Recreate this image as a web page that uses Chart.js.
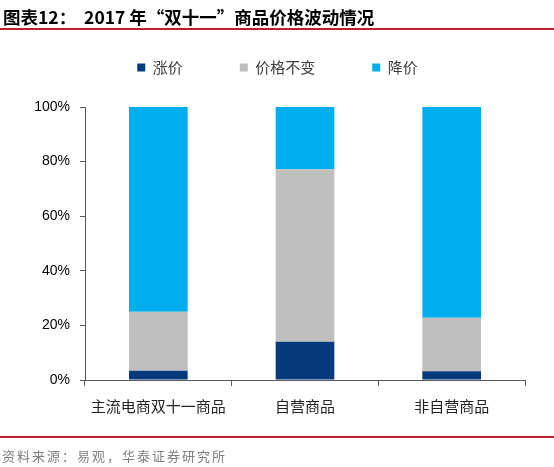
<!DOCTYPE html>
<html>
<head>
<meta charset="utf-8">
<script src="https://cdn.jsdelivr.net/npm/chart.js@4"></script>
<style>
  body { margin: 0; background: #fff; }
  #wrap { position: relative; width: 554px; height: 467px; overflow: hidden; }
  #chart { position: absolute; left: 0; top: 0; }
  .title { position: absolute; left: 3px; top: 4px; font: bold 17.5px "Noto Sans CJK SC", sans-serif; color: #000; white-space: pre; }
  .rule { position: absolute; left: 0; width: 554px; height: 2px; background: #BE1E2D; }
  .source { position: absolute; left: 2px; top: 446px; font: 13px "Noto Sans CJK SC", sans-serif; color: #7f7f7f; letter-spacing: 2px; }
</style>
</head>
<body>
<div id="wrap">
  <canvas id="chart" width="554" height="467"></canvas>
  <div class="title">图表12：  2017 年“双十一”商品价格波动情况</div>
  <div class="rule" style="top:28px"></div>
  <div class="rule" style="top:436px"></div>
  <div class="source">资料来源：易观，华泰证券研究所</div>
</div>
<script>
// Categories and shares (%)
const categories = ["主流电商双十一商品", "自营商品", "非自营商品"];
const priceUp = [3.4, 14.0, 3.2];      // 涨价
const priceSame = [21.6, 63.2, 19.6];  // 价格不变
const priceDown = [75.0, 22.8, 77.2];  // 降价
const yTicks = [0, 20, 40, 60, 80, 100];

const cjk = '"Noto Sans CJK SC", sans-serif';
const axisColor = "#595959";

// keep the legend block a fixed height so the plot starts where it should
const legendHeight = {
    id: "legendHeight",
    beforeLayout(chart) {
        const lg = chart.legend;
        if (lg && !lg._fixedFit) {
            const fit = lg.fit;
            lg.fit = function () { fit.call(this); this.height = 104; };
            lg._fixedFit = true;
        }
    }
};

new Chart(document.getElementById("chart"), {
    type: "bar",
    data: {
        labels: categories,
        datasets: [
            { label: "涨价", data: priceUp, backgroundColor: "#053A7C" },
            { label: "价格不变", data: priceSame, backgroundColor: "#BFBFBF" },
            { label: "降价", data: priceDown, backgroundColor: "#00AEEF" }
        ]
    },
    plugins: [legendHeight],
    options: {
        responsive: false,
        animation: false,
        layout: { padding: { top: 3, right: 29, bottom: 0, left: 30 } },
        datasets: { bar: { categoryPercentage: 1, barPercentage: 0.4 } },
        plugins: {
            tooltip: { enabled: false },
            legend: {
                position: "top",
                labels: {
                    boxWidth: 8,
                    boxHeight: 8,
                    padding: 57,
                    color: "#404040",
                    font: { family: cjk, size: 15 }
                }
            }
        },
        scales: {
            x: {
                stacked: true,
                afterFit: s => { s.height = 87; },
                grid: { drawOnChartArea: false, color: axisColor, tickLength: 6, offset: true },
                border: { color: axisColor },
                ticks: { color: "#222", padding: 11, font: { family: cjk, size: 15 } }
            },
            y: {
                stacked: true,
                min: 0,
                max: 100,
                afterFit: s => { s.width = 55; },
                afterBuildTicks: s => { s.ticks = yTicks.map(v => ({ value: v })); },
                grid: { drawOnChartArea: false, color: axisColor, tickLength: 5 },
                border: { color: axisColor },
                ticks: {
                    color: "#000",
                    padding: 10,
                    font: { family: '"Liberation Sans", Arial, sans-serif', size: 14 },
                    callback: v => v + "%"
                }
            }
        }
    }
});
</script>
</body>
</html>
